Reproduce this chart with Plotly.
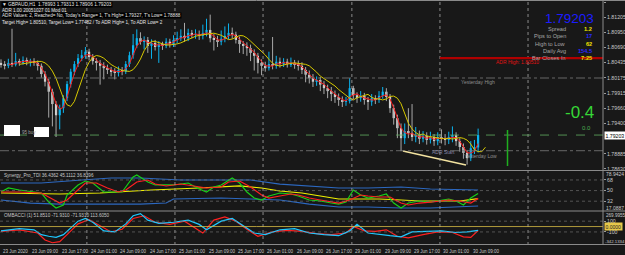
import numpy as np
import plotly.graph_objects as go

# ---------------- data ----------------
TIME_LABELS = ["23 Jun 2020", "23 Jun 09:00", "23 Jun 17:00", "24 Jun 01:00", "24 Jun 09:00",
               "24 Jun 17:00", "25 Jun 01:00", "25 Jun 09:00", "25 Jun 17:00", "26 Jun 01:00",
               "26 Jun 09:00", "26 Jun 17:00", "29 Jun 01:00", "29 Jun 09:00", "29 Jun 17:00",
               "30 Jun 01:00", "30 Jun 09:00"]
TIME_LABEL_BARS = [0, 8, 16, 24, 32, 40, 48, 56, 64, 72, 80, 88, 96, 104, 112, 120, 128]
DAY_START_BARS = [23.4, 47.4, 71.4, 95.6, 119.6, 143.6]

OPEN = [1.8043, 1.8041, 1.8038, 1.8043, 1.8040, 1.8046, 1.8043, 1.8048, 1.8045, 1.8046,
        1.8043, 1.8038, 1.8024, 1.8011, 1.7994, 1.7973, 1.7954, 1.7966, 1.7983, 1.8007,
        1.8028, 1.8041, 1.8051, 1.8056, 1.8062, 1.8053, 1.8046, 1.8043, 1.8038, 1.8034,
        1.8031, 1.8029, 1.8026, 1.8031, 1.8028, 1.8041, 1.8056, 1.8073, 1.8085, 1.8079,
        1.8082, 1.8072, 1.8077, 1.8070, 1.8075, 1.8072, 1.8079, 1.8075, 1.8082, 1.8085,
        1.8089, 1.8085, 1.8094, 1.8091, 1.8092, 1.8089, 1.8094, 1.8099, 1.8085, 1.8082,
        1.8079, 1.8084, 1.8089, 1.8094, 1.8091, 1.8082, 1.8075, 1.8072, 1.8068, 1.8060,
        1.8055, 1.8043, 1.8038, 1.8034, 1.8041, 1.8038, 1.8045, 1.8041, 1.8045, 1.8041,
        1.8043, 1.8040, 1.8038, 1.8031, 1.8023, 1.8017, 1.8011, 1.8014, 1.8006, 1.8000,
        1.7995, 1.7990, 1.7985, 1.7980, 1.7977, 1.7978, 1.8000, 1.7988, 1.7983, 1.7987,
        1.7980, 1.7977, 1.7983, 1.7980, 1.7987, 1.7994, 1.7985, 1.7966, 1.7949, 1.7932,
        1.7915, 1.7927, 1.7924, 1.7917, 1.7920, 1.7914, 1.7919, 1.7912, 1.7917, 1.7910,
        1.7917, 1.7915, 1.7912, 1.7917, 1.7920, 1.7910, 1.7900, 1.7890, 1.7881, 1.7898,
        1.78993]
HIGH = [1.8049, 1.8046, 1.8050, 1.8101, 1.8060, 1.8050, 1.8054, 1.8052, 1.8050, 1.8051,
        1.8047, 1.8042, 1.8029, 1.8016, 1.7999, 1.7978, 1.7972, 1.7988, 1.8012, 1.8033,
        1.8046, 1.8058, 1.8065, 1.8070, 1.8067, 1.8058, 1.8051, 1.8048, 1.8044, 1.8040,
        1.8036, 1.8034, 1.8037, 1.8036, 1.8046, 1.8062, 1.8092, 1.8100, 1.8095, 1.8088,
        1.8087, 1.8083, 1.8082, 1.8080, 1.8079, 1.8085, 1.8084, 1.8090, 1.8096, 1.8100,
        1.8111, 1.8101, 1.8099, 1.8100, 1.8098, 1.8108, 1.8118, 1.8125, 1.8092, 1.8089,
        1.8098, 1.8105, 1.8110, 1.8103, 1.8096, 1.8088, 1.8080, 1.8078, 1.8074, 1.8066,
        1.8060, 1.8049, 1.8045, 1.8062, 1.8087, 1.8055, 1.8052, 1.8051, 1.8050, 1.8052,
        1.8048, 1.8047, 1.8044, 1.8036, 1.8030, 1.8024, 1.8020, 1.8019, 1.8012, 1.8006,
        1.8002, 1.7996, 1.7991, 1.7986, 1.7985, 1.8017, 1.8004, 1.7993, 1.7995, 1.7992,
        1.7985, 1.7990, 1.7988, 1.7995, 1.8002, 1.8000, 1.7990, 1.7972, 1.7955, 1.7940,
        1.7940, 1.7966, 1.7973, 1.7934, 1.7928, 1.7927, 1.7925, 1.7926, 1.7922, 1.7925,
        1.7930, 1.7922, 1.7926, 1.7935, 1.7925, 1.7915, 1.7906, 1.7895, 1.7910, 1.7912,
        1.79313]
LOW = [1.8035, 1.8032, 1.8034, 1.8036, 1.8037, 1.8038, 1.8040, 1.8039, 1.8037, 1.8038,
       1.8030, 1.8018, 1.8003, 1.7950, 1.7935, 1.7917, 1.7930, 1.7958, 1.7978, 1.8001,
       1.8022, 1.8036, 1.8046, 1.8050, 1.8047, 1.8040, 1.8030, 1.8006, 1.8015, 1.8024,
       1.8020, 1.8015, 1.8020, 1.8022, 1.8024, 1.8036, 1.8050, 1.8068, 1.8074, 1.8066,
       1.8060, 1.8050, 1.8064, 1.8043, 1.8065, 1.8068, 1.8069, 1.8070, 1.8076, 1.8080,
       1.8079, 1.8080, 1.8085, 1.8084, 1.8082, 1.8083, 1.8088, 1.8078, 1.8064, 1.8070,
       1.8073, 1.8078, 1.8083, 1.8084, 1.8076, 1.8060, 1.8058, 1.8055, 1.8046, 1.8030,
       1.8025, 1.8022, 1.8028, 1.8030, 1.8032, 1.8033, 1.8035, 1.8036, 1.8035, 1.8036,
       1.8033, 1.8030, 1.8024, 1.8010, 1.8008, 1.8002, 1.8004, 1.7995, 1.7990, 1.7983,
       1.7978, 1.7975, 1.7970, 1.7968, 1.7970, 1.7974, 1.7981, 1.7975, 1.7977, 1.7972,
       1.7963, 1.7970, 1.7973, 1.7975, 1.7982, 1.7978, 1.7958, 1.7938, 1.7915, 1.7893,
       1.7905, 1.7915, 1.7910, 1.7908, 1.7905, 1.7908, 1.7904, 1.7906, 1.7902, 1.7903,
       1.7906, 1.7903, 1.7905, 1.7908, 1.7902, 1.7892, 1.7880, 1.7870, 1.7876, 1.7888,
       1.78906]
CLOSE = [1.8041, 1.8038, 1.8043, 1.8040, 1.8046, 1.8043, 1.8048, 1.8045, 1.8046, 1.8043,
         1.8038, 1.8024, 1.8011, 1.7994, 1.7973, 1.7954, 1.7966, 1.7983, 1.8007, 1.8028,
         1.8041, 1.8051, 1.8056, 1.8062, 1.8053, 1.8046, 1.8043, 1.8038, 1.8034, 1.8031,
         1.8029, 1.8026, 1.8031, 1.8028, 1.8041, 1.8056, 1.8073, 1.8085, 1.8079, 1.8082,
         1.8072, 1.8077, 1.8070, 1.8075, 1.8072, 1.8079, 1.8075, 1.8082, 1.8085, 1.8089,
         1.8085, 1.8094, 1.8091, 1.8092, 1.8089, 1.8094, 1.8099, 1.8085, 1.8082, 1.8079,
         1.8084, 1.8089, 1.8094, 1.8091, 1.8082, 1.8075, 1.8072, 1.8068, 1.8060, 1.8055,
         1.8043, 1.8038, 1.8034, 1.8041, 1.8038, 1.8045, 1.8041, 1.8045, 1.8041, 1.8043,
         1.8040, 1.8038, 1.8031, 1.8023, 1.8017, 1.8011, 1.8014, 1.8006, 1.8000, 1.7995,
         1.7990, 1.7985, 1.7980, 1.7977, 1.7978, 1.8000, 1.7988, 1.7983, 1.7987, 1.7980,
         1.7977, 1.7983, 1.7980, 1.7987, 1.7994, 1.7985, 1.7966, 1.7949, 1.7932, 1.7915,
         1.7927, 1.7924, 1.7917, 1.7920, 1.7914, 1.7919, 1.7912, 1.7917, 1.7910, 1.7917,
         1.7915, 1.7912, 1.7917, 1.7920, 1.7910, 1.7900, 1.7890, 1.7881, 1.7898, 1.78993,
         1.79203]

PRICE_TICKS = [1.81465, 1.81205, 1.80950, 1.80690, 1.80435, 1.80175, 1.79915, 1.79660, 1.79400, 1.78885, 1.78630]
BID = 1.79203
ADR_HIGH = 1.80510
YESTERDAY_HIGH = 1.80173
YESTERDAY_LOW = 1.78937
TREND_X = [109.5, 126.7]
TREND_Y = [1.78932, 1.78694]

# TDI sub-window
TDI_RSI_X = [0, 2, 5, 9, 11, 13, 15, 17, 18, 21, 23, 25, 28, 30, 33, 36, 37, 40, 42, 45, 47, 51, 54, 56, 58, 60,
             62, 63, 65, 67, 69, 71, 73, 76, 79, 81, 84, 87, 90, 92, 94, 96, 98, 100, 103, 105, 107, 109, 111,
             114, 117, 120, 122, 124, 126, 128, 130]
TDI_RSI = [47.6, 54.4, 51.0, 47.6, 45.9, 30.6, 20.5, 25.6, 42.5, 59.5, 66.2, 62.8, 47.6, 47.6, 47.6, 73.0, 76.4,
           64.5, 59.5, 59.5, 59.5, 62.8, 52.7, 47.6, 56.1, 59.5, 67.9, 71.3, 62.8, 47.6, 37.4, 34.0, 40.8, 45.9,
           44.2, 40.8, 34.0, 32.3, 28.9, 27.2, 30.6, 51.0, 42.5, 37.4, 40.8, 44.2, 28.9, 20.5, 28.9, 32.3, 30.6,
           34.0, 35.7, 32.3, 25.6, 37.4, 45.1]
TDI_SIG_X = [0, 5, 11, 13, 16, 18, 21, 23, 26, 29, 32, 34, 37, 40, 42, 45, 49, 52, 56, 60, 62, 65, 68, 71, 73,
             76, 79, 81, 84, 87, 90, 92, 95, 98, 100, 103, 106, 109, 111, 114, 117, 120, 122, 125, 128, 130]
TDI_SIG = [47.6, 47.6, 45.9, 39.1, 28.9, 34.0, 51.0, 62.8, 62.8, 54.4, 47.6, 51.0, 64.5, 67.9, 61.1, 57.8, 61.1,
           57.8, 54.4, 56.1, 64.5, 66.2, 56.1, 42.5, 37.4, 40.8, 44.2, 42.5, 37.4, 34.0, 30.6, 28.9, 34.0, 42.5,
           40.8, 39.1, 39.1, 28.9, 25.6, 28.9, 30.6, 32.3, 34.0, 32.3, 28.9, 36.8]
TDI_BASE_X = [0, 16, 27, 41, 54, 60, 65, 71, 76, 82, 87, 92, 98, 103, 109, 114, 120, 125, 130]
TDI_BASE = [45.9, 44.2, 45.9, 51.0, 54.4, 56.1, 57.8, 54.4, 49.3, 45.9, 40.8, 35.7, 35.7, 35.7, 34.0, 32.3, 32.3,
            32.3, 36.4]
TDI_UP_X = [0, 11, 22, 30, 38, 49, 60, 68, 76, 84, 92, 100, 109, 117, 125, 130]
TDI_UP = [62.8, 62.8, 67.9, 71.3, 71.3, 67.9, 67.9, 67.9, 61.1, 57.8, 54.4, 54.4, 56.1, 52.7, 51.0, 51.0]
TDI_DN_X = [0, 8, 16, 27, 38, 45, 47, 60, 68, 76, 84, 92, 100, 109, 117, 125, 130]
TDI_DN = [34.0, 28.9, 27.2, 27.2, 27.2, 28.9, 35.7, 37.4, 35.7, 34.0, 27.2, 22.2, 22.2, 20.5, 20.5, 22.2, 23.9]
TDI_TICKS = [68, 50, 32]
TDI_MAX_LABEL = "78.9424"
TDI_MIN_LABEL = "17.0887"

# CCI sub-window
CCI_A_X = [0, 5, 9, 11, 13, 15, 17, 19, 21, 23, 25, 28, 31, 34, 36, 38, 40, 43, 47, 51, 54, 56, 60, 63, 66, 69,
           72, 76, 80, 84, 88, 92, 95, 97, 100, 103, 106, 109, 112, 116, 120, 124, 127, 130]
CCI_A = [-80, -40, -60, -150, -180, -200, -150, -20, 100, 150, 80, -80, -100, 50, 200, 240, 120, 60, 80, 120, 40,
         -60, 100, 150, 20, -120, -150, -60, -40, -120, -150, -170, -80, 40, -120, -150, -170, -190, -100, -90,
         -80, -110, -100, -72]
CCI_B_X = [0, 5, 10, 12, 14, 16, 18, 21, 24, 27, 30, 33, 36, 39, 42, 46, 50, 55, 58, 61, 64, 67, 70, 74, 78, 82,
           86, 90, 94, 96, 99, 102, 105, 108, 111, 115, 119, 123, 126, 128, 130]
CCI_B = [-90, -60, -120, -250, -300, -280, -150, 50, 130, 20, -100, -50, 150, 200, 80, 40, 100, -120, 120, 180,
         100, -50, -180, -100, -70, -90, -130, -150, -120, 0, -80, -90, -60, -180, -210, -150, -100, -110, -190,
         -200, -72]
CCI_TICKS = [100, -100]
CCI_MAX_LABEL = "269.9955"
CCI_MIN_LABEL = "-342.1334"

# ---------------- styling ----------------
BG = "#181818"
FRAME = "#8a8a8a"
TXT = "#c8c8c8"
FONT = "Liberation Sans"
UP_C = "#0ab4f0"
DN_C = "#f2f2f2"
PW, PH = 603.0, 245.0


def px(x):
    return x / PW


def py(y):
    return (PH - y) / PH


n = len(CLOSE)
idx = list(range(n))
fig = go.Figure()

# wicks
for up, col in ((True, UP_C), (False, "#a8a8a8")):
    wx, wy = [], []
    for i in idx:
        if (CLOSE[i] >= OPEN[i]) == up:
            wx += [i, i, None]
            wy += [LOW[i], HIGH[i], None]
    fig.add_trace(go.Scatter(x=wx, y=wy, mode="lines", line=dict(color=col, width=1),
                             hoverinfo="skip", showlegend=False))

# bodies
base = [min(o, c) for o, c in zip(OPEN, CLOSE)]
hgt = [max(abs(c - o), 0.00004) for o, c in zip(OPEN, CLOSE)]
cols = [UP_C if c >= o else DN_C for o, c in zip(OPEN, CLOSE)]
fig.add_trace(go.Bar(x=idx, y=hgt, base=base, width=0.6, marker=dict(color=cols, line=dict(width=0)),
                     showlegend=False, hoverinfo="skip"))

# moving averages
close = np.array(CLOSE)
ma_fast = np.convolve(close, np.ones(3) / 3, mode="valid")
ma_slow = np.convolve(close, np.ones(4) / 4, mode="valid")
fig.add_trace(go.Scatter(x=list(range(2, n)), y=ma_fast, mode="lines", line=dict(color="#ff1a1a", width=1),
                         showlegend=False, hoverinfo="skip"))
fig.add_trace(go.Scatter(x=[i + 2 for i in range(3, n)], y=ma_slow, mode="lines",
                         line=dict(color="#d6c800", width=1), showlegend=False, hoverinfo="skip"))
# trend line
fig.add_trace(go.Scatter(x=TREND_X, y=TREND_Y, mode="lines", line=dict(color="#f3e3a0", width=1.3),
                         showlegend=False, hoverinfo="skip"))

# TDI
for xs, ys, col in ((TDI_UP_X, TDI_UP, "#2c68c0"), (TDI_DN_X, TDI_DN, "#2c68c0"),
                    (TDI_BASE_X, TDI_BASE, "#f0f000"), (TDI_RSI_X, TDI_RSI, "#17d017"),
                    (TDI_SIG_X, TDI_SIG, "#ff2020")):
    fig.add_trace(go.Scatter(x=xs, y=ys, mode="lines", line=dict(color=col, width=1.2), yaxis="y2",
                             showlegend=False, hoverinfo="skip"))
# CCI
for xs, ys, col in ((CCI_B_X, CCI_B, "#ff2020"), (CCI_A_X, CCI_A, "#1ec8ff")):
    fig.add_trace(go.Scatter(x=xs, y=ys, mode="lines", line=dict(color=col, width=1.2), yaxis="y3",
                             showlegend=False, hoverinfo="skip"))

shapes = []
# vertical grid
for g in DAY_START_BARS:
    shapes.append(dict(type="line", xref="x", yref="paper", x0=g, x1=g, y0=0, y1=1,
                       line=dict(color="#a8a8a8", width=0.8, dash="dot")))
# horizontal lines main
shapes.append(dict(type="line", xref="paper", yref="y", x0=0, x1=1, y0=YESTERDAY_HIGH, y1=YESTERDAY_HIGH,
                   line=dict(color="#7c7c7c", width=0.8, dash="dashdot")))
shapes.append(dict(type="line", xref="paper", yref="y", x0=0, x1=1, y0=YESTERDAY_LOW, y1=YESTERDAY_LOW,
                   line=dict(color="#7c7c7c", width=0.8, dash="dashdot")))
shapes.append(dict(type="line", xref="paper", yref="y", x0=0, x1=1, y0=BID, y1=BID,
                   line=dict(color="#62ae62", width=0.8, dash="dash")))
shapes.append(dict(type="line", xref="x", yref="y", x0=119.6, x1=164.03, y0=ADR_HIGH, y1=ADR_HIGH,
                   line=dict(color="#b00000", width=2.2)))
# green range bar
shapes.append(dict(type="line", xref="paper", yref="paper", x0=px(507.5), x1=px(507.5), y0=py(166), y1=py(130),
                   line=dict(color="#1fae1f", width=1.5)))
# white boxes
shapes.append(dict(type="rect", xref="paper", yref="paper", x0=px(4), x1=px(20), y0=py(136), y1=py(125),
                   fillcolor="white", line=dict(width=0)))
shapes.append(dict(type="rect", xref="paper", yref="paper", x0=px(34), x1=px(49), y0=py(137), y1=py(127),
                   fillcolor="white", line=dict(width=0)))
# level lines
for lv in TDI_TICKS:
    shapes.append(dict(type="line", xref="paper", yref="y2", x0=0, x1=1, y0=lv, y1=lv,
                       line=dict(color="#6e6e6e", width=0.7, dash="dot")))
for lv in CCI_TICKS:
    shapes.append(dict(type="line", xref="paper", yref="y3", x0=0, x1=1, y0=lv, y1=lv,
                       line=dict(color="#6e6e6e", width=0.7, dash="dot")))
shapes.append(dict(type="line", xref="paper", yref="y3", x0=0, x1=1, y0=0, y1=0,
                   line=dict(color="#d8bd45", width=0.8)))
# frames
for yy in (0.5, 170.5, 211, 244.5):
    shapes.append(dict(type="line", xref="paper", yref="paper", x0=0, x1=625 / PW, y0=py(yy), y1=py(yy),
                       line=dict(color=FRAME, width=1)))
shapes.append(dict(type="line", xref="paper", yref="paper", x0=1, x1=1, y0=py(244.5), y1=py(0.5),
                   line=dict(color=FRAME, width=1)))

ann = []


def text(t, x, y, size, color, xanchor="left", bg=None, yanchor="middle"):
    d = dict(text=t, x=px(x), y=py(y), xref="paper", yref="paper", showarrow=False, xanchor=xanchor,
             yanchor=yanchor, font=dict(family=FONT, size=size, color=color), borderpad=0)
    if bg:
        d["bgcolor"] = bg
    ann.append(d)


text("▼ GBPAUD,H1  1.78993 1.79313 1.78906 1.79203", 1, 4.7, 4.8, "#e6e6e6", bg="#000000")
text("ADR 1.00 20051027 01 Mod 01", 1, 10.8, 4.6, "#e6e6e6")
text("ADR Values: 2, Reached= No, Today's Range= 1, T's High= 1.79327, T's Low= 1.78888", 1, 15.8, 4.6,
     "#e6e6e6", bg="#000000")
text("Target High= 1.80510, Target Low= 1.77482 / To ADR High= 1, To ADR Low= 2", 1, 22.3, 4.6, "#e6e6e6")

text("1.79203", 595, 18, 13.5, "#1c1cff", xanchor="right")
for lab, val, vc, yy in (("Spread", "1.2", "#f2e200", 29), ("Pips to Open", "17", "#2a2aff", 36),
                         ("High to Low", "62", "#f2e200", 43.5), ("Daily Avg", "154.5", "#2a2aff", 51),
                         ("Bar Closes In", "7:25", "#f2e200", 58)):
    text(lab, 567, yy, 5.6, "#a6a6a6", xanchor="right")
    text("<b>" + val + "</b>", 593, yy, 5.6, vc, xanchor="right")

text("ADR High: 1.80510", 495, 61.8, 5, "#e01212")
text("Yesterday High", 460, 81.8, 5, "#8e8e8e")
text("ADR Start", 431, 151.8, 5, "#8484a4")
text("Yesterday Low", 463, 155.8, 5, "#8e8e8e")
text("-0.4", 595, 112, 17, "#36d636", xanchor="right")
text("0.0", 586, 128, 6, "#4caf50", xanchor="center")
text("95 buy", 21, 132, 4.5, "#a0a0a0")

text("Synergy_Pro_TDI 36.4362 45.1112 36.8396", 3, 175.5, 4.6, TXT)
text("OMBACCI (1) 51.8510 -71.9310 -71.9310 113.6050", 3, 215.5, 4.6, TXT)

# sub-window max/min labels, placed inside their windows as the terminal does
text(TDI_MAX_LABEL, 605, 174.3, 5.0, TXT)
text(TDI_MIN_LABEL, 605, 207.6, 5.0, TXT)
text(CCI_MAX_LABEL, 604.5, 215.8, 4.6, TXT)
text(CCI_MIN_LABEL, 603.5, 241.6, 4.3, TXT)

# highlighted axis labels
ann.append(dict(text="1.79203", x=1, y=BID, xref="paper", yref="y", xanchor="left", yanchor="middle",
                xshift=1, showarrow=False, bgcolor="#ffffff", borderpad=0.5,
                font=dict(family=FONT, size=5.2, color="#000000")))
ann.append(dict(text="0.0000", x=1, y=0, xref="paper", yref="y3", xanchor="left", yanchor="middle",
                xshift=1, showarrow=False, bgcolor="#e6c84a", borderpad=0.5,
                font=dict(family=FONT, size=5.0, color="#202020")))

# time labels
for b, lab in zip(TIME_LABEL_BARS, TIME_LABELS):
    ann.append(dict(text=lab, x=b, y=0, xref="x", yref="paper", xanchor="left", yanchor="top", yshift=-1.5,
                    showarrow=False, font=dict(family=FONT, size=4.5, color=TXT)))

axis_common = dict(side="right", anchor="x", showgrid=False, zeroline=False, ticks="outside", ticklen=2,
                   tickcolor="#9a9a9a", tickfont=dict(family=FONT, size=5.2, color=TXT), showline=False)

fig.update_layout(
    width=625, height=255, margin=dict(l=0, r=22, t=0, b=10),
    paper_bgcolor=BG, plot_bgcolor=BG, barmode="overlay", showlegend=False,
    xaxis=dict(range=[-0.2725, 164.03], showgrid=False, zeroline=False, showticklabels=False, ticks=""),
    yaxis=dict(domain=[py(170), py(1)], range=[1.78609, 1.81482], tickvals=PRICE_TICKS,
               ticktext=["%.5f" % v for v in PRICE_TICKS], **axis_common),
    yaxis2=dict(domain=[py(210), py(172)], range=[17.09, 81.48], tickvals=TDI_TICKS,
                ticktext=[str(v) for v in TDI_TICKS], **axis_common),
    yaxis3=dict(domain=[py(245), py(212)], range=[-342.2, 270.1], tickvals=CCI_TICKS,
                ticktext=[str(v) for v in CCI_TICKS], **axis_common),
    shapes=shapes, annotations=ann,
)

fig.write_html("out.html", config={"displayModeBar": False})
